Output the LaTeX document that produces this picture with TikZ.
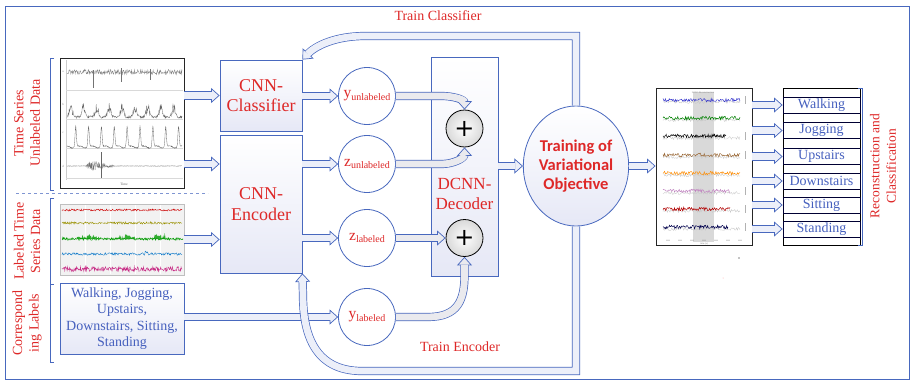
\documentclass[tikz,border=0pt]{standalone}
\usepackage{fontspec}
\setmainfont{Liberation Serif}
\newfontfamily\calfont{Carlito}
\newfontfamily\dejafont{DejaVu Sans}
\usetikzlibrary{arrows.meta,shapes.geometric,calc}
\definecolor{lblue}{RGB}{72,104,190}
\definecolor{tred}{RGB}{222,40,40}
\definecolor{sfill}{RGB}{236,239,249}
\definecolor{gfill}{RGB}{234,234,238}
\definecolor{bfill}{RGB}{230,232,246}
\definecolor{tblue}{RGB}{70,96,190}
\newcommand\barrow[2][sfill]{%
  \draw[lblue,line width=8.2pt,shorten >=7pt] #2;
  \draw[#1,line width=0.5pt,-{Triangle[length=8.5pt,width=15pt,line width=0.7pt,color=lblue,fill=#1]}] #2;
  \draw[#1,line width=6.8pt,shorten >=7.6pt] #2;
}
\newcommand\subl[2]{{\fontsize{15.5}{15}\selectfont #1}{\fontsize{10}{10}\selectfont\raisebox{-2.5pt}{#2}}}
\begin{document}
\begin{tikzpicture}[x=1pt,y=-1pt,
  box/.style={draw=lblue,line width=0.8pt,top color=white,bottom color=bfill,text=tred,align=center,font=\fontsize{18}{20.5}\selectfont,inner sep=0},
  circ/.style={circle,draw=lblue,line width=0.8pt,fill=white,minimum size=57pt,inner sep=0,text=tred},
  plusc/.style={circle,draw=black,line width=0.8pt,minimum size=37pt,inner sep=0,inner color=white,outer color=gray!30,font=\dejafont\fontsize{24}{24}\selectfont},
  redlbl/.style={text=tred,align=center,font=\fontsize{14}{16.5}\selectfont},
  clsbox/.style={draw=black!80!blue,line width=0.8pt,minimum width=77pt,minimum height=16pt,inner sep=0,text=tblue,font=\fontsize{14}{14}\selectfont},
  img/.style={draw=black!85,line width=0.9pt,inner sep=0},
  brk/.style={lblue,line width=0.8pt},
  wave/.style={line width=0.3pt}
]
\useasboundingbox (0,0) rectangle (911,380);
\draw[lblue,line width=0.8pt] (5,6) rectangle (909.5,379);

% left labels and brackets
\node[redlbl,rotate=90] (lab1) at (27,123) {Time Series\\Unlabeled Data};
\node[redlbl,rotate=90] (lab2) at (27,241) {Labeled Time\\Series Data};
\node[redlbl,rotate=90] (lab3) at (27,323) {Correspond\\ing Labels};
\draw[brk] (54,58) -- (50,58) -- (50,190) -- (54,190);
\draw[brk] (54,198) -- (50,198) -- (50,362) -- (54,362);
\draw[brk] (50,284) -- (54,284);
\draw[lblue!70,dashed,line width=0.8pt] (16,193) -- (208,193);

% image 1 (EEG)
\node[img,fill=white,minimum width=124pt,minimum height=130pt] (img1) at (122,123) {};
\draw[gray!40,line width=0.3pt] (66,60) -- (66,180);
\foreach \yy in {90,119,148,178} \draw[gray!30,line width=0.4pt] (66,\yy) -- (183,\yy);
\draw[wave,black!50] plot[domain=67:182,samples=240] (\x,{72+2.6*rand});
\draw[wave,black!55] (93,70) -- (93,88) (121,68) -- (121,82) (150,69) -- (150,80);
\draw[wave,black!60] plot[domain=67:182,samples=320] (\x,{117-(9+5*rand)*pow(abs(sin(14*\x)),6)-1.2*rand});
\draw[wave,black!60] plot[domain=67:182,samples=420] (\x,{146-20*pow(abs(cos(14*\x+20)),40)+2*pow(abs(cos(14*\x+70)),4)-0.5*rand});
\draw[wave,black!55] plot[domain=67:182,samples=320] (\x,{166+0.3*rand+(\x>86)*(\x<114)*6*rand*exp(-abs(\x-95)/10)});
\draw[wave,black!60] (101,152) -- (101,178);
\foreach \yy/\tt in {72/a,104/b,133/c,166/d} \node[font=\fontsize{3}{3}\selectfont,gray] at (63,\yy) {\tt};
\node[font=\fontsize{3.5}{3.5}\selectfont,gray!80!black] (tm) at (124,184) {Time};

% image 2 (coloured traces)
\node[img,draw=gray!50,line width=0.4pt,fill=gray!10,minimum width=124pt,minimum height=71pt] (img2) at (122,239.5) {};
\foreach \xx in {85,110,135,160} \draw[white,line width=0.7pt] (\xx,205) -- (\xx,274);
\draw[wave,red!80!black,line width=0.4pt] plot[domain=62:182,samples=200] (\x,{210+1*rand});
\draw[wave,olive!90!yellow,line width=0.4pt] plot[domain=62:182,samples=200] (\x,{223+1.2*rand});
\fill[green!60!black!80] (62,239) -- plot[domain=62:183,samples=160] (\x,{239-2.5*pow(abs(sin(5*\x)),2)*(1+rand)+1.5*rand}) -- (183,239) -- cycle;
\draw[wave,green!60!black,line width=0.4pt] plot[domain=62:183,samples=160] (\x,{239+1.3*rand});
\draw[wave,cyan!60!blue,line width=0.4pt] plot[domain=62:182,samples=200] (\x,{254+1.2*rand-2*(\x>145)*(\x<148)});
\draw[wave,magenta!80!black,line width=0.4pt] plot[domain=62:182,samples=260] (\x,{269+2.4*rand});

% labels box
\node[draw=lblue,line width=0.8pt,top color=white,bottom color=bfill,minimum width=124pt,minimum height=71pt,inner sep=0,text=tblue,align=center,font=\fontsize{14}{16.5}\selectfont] (labs) at (122,318.5) {Walking, Jogging,\\Upstairs,\\Downstairs, Sitting,\\Standing};

% CNN boxes
\node[box,minimum width=82pt,minimum height=71pt] (cls) at (261,95.5) {CNN-\\Classifier};
\node[box,minimum width=82pt,minimum height=138pt] (enc) at (261,204) {CNN-\\Encoder};

% decoder
\node[box,minimum width=67pt,minimum height=219pt] (dec) at (464.5,166.5) {};
\node[text=tred,align=center,font=\fontsize{17}{20}\selectfont] (dectxt) at (464.5,194) {DCNN-\\Decoder};

% circles
\node[circ] (yu) at (367,96) {\subl{y}{unlabeled}};
\node[circ] (zu) at (367,164) {\subl{z}{unlabeled}};
\node[circ] (zl) at (367,238) {\subl{z}{labeled}};
\node[circ] (yl) at (367,317) {\subl{y}{labeled}};

\node[plusc] (p1) at (464.5,128.5) {+};
\node[plusc] (p2) at (464.5,238) {+};

% objective
\node[ellipse,draw=lblue,line width=0.8pt,minimum width=92pt,minimum height=120pt,inner sep=0,top color=white,bottom color=bfill,text=tred,align=center,font=\calfont\bfseries\fontsize{16.5}{19}\selectfont] (obj) at (576,166) {Training of\\Variational\\Objective};

% image 3
\node[img,fill=white,minimum width=96pt,minimum height=157pt] (img3) at (704,166.5) {};
\fill[gray!30] (693,92) rectangle (714,242);
\node[font=\fontsize{2.5}{2.5}\selectfont,gray] at (703,93) {LOSO Reconstruction};
\foreach \yy/\cc/\xe in {100/{blue!60!gray}/740, 118/{green!50!black}/740, 136/{black}/726, 155/{brown!80!black}/740, 173/{orange!90!yellow}/740, 191/{violet!50!white}/730, 209/{red!70!black}/730, 227/{blue!30!black}/728} {
  \draw[wave,gray!45] plot[domain=663:740,samples=90] (\x,{\yy+2+1.6*rand});
  \draw[wave,\cc,line width=0.45pt] plot[domain=663:\xe,samples=100] (\x,{\yy+1.8*rand});
}
\foreach \yy in {100,136,155,191,209,227} \draw[gray!60,line width=0.3pt] (745,\yy-4) -- (745,\yy+4);
\foreach \xx in {668,680,692,704,716,728,740} \node[font=\fontsize{2}{2}\selectfont,gray] at (\xx,241) {0000};
\node[font=\fontsize{2.5}{2.5}\selectfont,gray] at (704,244) {time (s)};
\fill[black] (739,258) circle (0.6pt);
\fill[red!35] (723,278) circle (0.5pt);

% classes
\node[draw=black,line width=0.9pt,minimum width=77pt,minimum height=157pt,inner sep=0] (cbox) at (821.5,166.5) {};
\node[clsbox] (c1) at (821.5,105) {Walking};
\node[clsbox] (c2) at (821.5,130.5) {Jogging};
\node[clsbox] (c3) at (821.5,156.5) {Upstairs};
\node[clsbox] (c4) at (821.5,181) {Downstairs};
\node[clsbox] (c5) at (821.5,205) {Sitting};
\node[clsbox] (c6) at (821.5,229) {Standing};
\draw[brk] (858,88) -- (862,88) -- (862,245) -- (858,245);
\node[redlbl,rotate=90,font=\fontsize{13.5}{16.5}\selectfont] (rc) at (883,166) {Reconstruction and\\Classification};

% arrows
\barrow{(img1.east |- cls.west) -- (cls.west)}
\barrow{(img1.east |- zu) -- (enc.west |- zu)}
\barrow{(img2.east) -- (enc.west |- img2.east)}
\barrow{(labs.east |- yl) -- (yl.west)}
\barrow{(cls.east |- yu) -- (yu.west)}
\barrow{(enc.east |- zu) -- (zu.west)}
\barrow{(enc.east |- zl) -- (zl.west)}
\barrow[gfill]{(yu.east) -- (442,96) to[out=0,in=90] (p1.north)}
\barrow[gfill]{(zu.east) -- (442,164) to[out=0,in=-90] (p1.south)}
\barrow[gfill]{(zl.east) -- (p2.west)}
\barrow[gfill]{(yl.east) -- (428,317) .. controls (458,317) and (464.5,300) .. (464.5,275) -- (p2.south)}
\barrow{(dec.east |- obj) -- (obj.west)}
\barrow{(obj.east) -- (img3.west |- obj.east)}
\foreach \i in {1,...,6} {\barrow{(img3.east |- c\i.west) -- (c\i.west)}}
\barrow{(obj.north) -- (576,36) -- (365,36) .. controls (335,36) and (315,46) .. (cls.north east)}
\barrow{(obj.south) -- (576,371) -- (362,371) .. controls (315,371) and (303,335) .. (303,295) -- (enc.south east)}

% feedback labels
\node[text=tred,font=\fontsize{14}{14}\selectfont] (tc) at (438,16) {Train Classifier};
\node[text=tred,font=\fontsize{14}{14}\selectfont] (te) at (460,347) {Train Encoder};
\end{tikzpicture}
\end{document}
